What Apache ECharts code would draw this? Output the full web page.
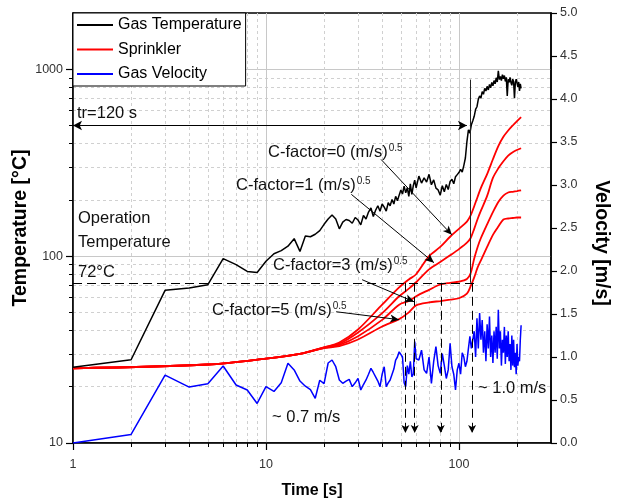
<!DOCTYPE html>
<html>
<head>
<meta charset="utf-8">
<script src="https://cdn.jsdelivr.net/npm/echarts@6/dist/echarts.min.js"></script>
<style>
html, body { margin: 0; padding: 0; background: #fff; }
#main { width: 619px; height: 504px; }
</style>
</head>
<body>
<div id="main"></div>
<script>
// time stamps [s] for the measured gas temperature / velocity
var timeS = [
  1, 2, 3, 4, 5, 6, 7, 8, 9, 10, 11, 12, 13, 14, 15, 16, 17, 18, 19, 20,
  21, 22, 23, 24, 25, 26, 27, 28, 29, 30, 31, 32, 33, 34, 35, 36, 37, 38, 39, 40,
  41, 42, 43, 44, 45, 46, 47, 48, 49, 50, 51, 52, 53, 54, 55, 56, 57, 58, 59, 60,
  62, 64, 66, 68, 70, 72, 74, 76, 78, 80, 82, 84, 86, 88, 90, 92, 94, 96, 98, 100,
  102, 104, 106, 108, 110, 112, 114, 116, 118, 120, 122, 124, 126, 128, 130, 132, 134, 136, 138, 140,
  142, 144, 146, 148, 150, 152, 154, 156, 158, 160, 162, 164, 166, 168, 170, 172, 174, 176, 178, 180,
  182, 184, 186, 188, 190, 192, 194, 196, 198, 200, 202, 204, 206, 208, 210
];
var gasTemp = [
  25.4, 27.9, 65.6, 67.5, 70.3, 97, 90, 82.8, 81.7, 93.8, 103, 107, 113, 124, 106, 128, 127, 131, 137, 148,
  158, 166, 158, 140, 152, 157, 155, 150, 161, 156, 147, 165, 158, 172, 181, 163, 176, 186, 174, 190,
  183, 174, 193, 186, 201, 190, 209, 198, 212, 226, 215, 237, 218, 232, 209, 244, 214, 238, 255, 232,
  268, 246, 262, 249, 274, 241, 256, 231, 226, 212, 238, 221, 242, 227, 251, 258, 244, 266, 273, 280,
  291, 282, 305, 335, 410, 474, 455, 505, 530, 560, 610, 630, 690, 720, 700, 760, 735, 790, 765, 810,
  775, 830, 795, 850, 815, 870, 835, 900, 855, 980, 880, 915, 870, 935, 890, 925, 860, 905, 720, 885,
  850, 905, 850, 820, 885, 860, 700, 845, 885, 870, 805, 855, 765, 835, 790
];
var gasVel = [
  0.0, 0.1, 0.79, 0.65, 0.69, 0.895, 0.674, 0.616, 0.46, 0.655, 0.6, 0.7, 0.927, 0.85, 0.72, 0.66, 0.62, 0.52, 0.73, 0.69,
  0.93, 0.965, 0.887, 0.733, 0.694, 0.72, 0.74, 0.655, 0.7, 0.752, 0.616, 0.68, 0.733, 0.8, 0.869, 0.82, 0.77, 0.72, 0.655, 0.8,
  0.887, 0.655, 0.7, 0.733, 0.72, 0.86, 0.965, 1.0, 1.06, 1.03, 1.0, 0.7, 0.655, 0.9, 0.8, 0.95, 0.77, 0.8, 1.18, 0.98,
  0.965, 1.08, 0.85, 0.81, 1.0, 0.694, 0.95, 1.12, 0.9, 0.81, 1.04, 0.9, 0.75, 0.85, 1.16, 0.887, 0.8, 0.616, 0.85, 0.927,
  0.8, 1.05, 1.0, 0.887, 0.95, 1.1, 1.24, 1.1, 1.12, 1.3, 1.0, 1.45, 1.1, 1.51, 1.2, 1.43, 1.05, 1.3, 0.95, 1.38,
  1.1, 1.47, 1.0, 1.25, 0.93, 1.3, 1.05, 1.35, 0.98, 1.55, 1.1, 1.3, 0.9, 1.2, 1.05, 1.35, 0.92, 1.25, 1.0, 1.3,
  0.95, 1.15, 0.85, 1.25, 0.9, 1.2, 0.88, 1.05, 0.8, 1.15, 0.9, 1.0, 0.95, 1.2, 1.37
];

// sprinkler (link) temperature for C-factor 0, 1, 3, 5 (m/s)^0.5
var sprTime = [1, 5, 10, 15, 20, 24, 30, 40, 49, 55, 60, 70, 80, 90, 100, 110, 115, 120, 125, 130, 140, 150, 160, 170, 180, 190, 200, 210];
var sprC0 = [25.1, 26.3, 28.3, 30, 32.5, 34.5, 40.5, 55, 68, 75, 80, 100, 112, 127, 140, 153, 165, 185, 208, 232, 275, 330, 388, 435, 470, 500, 528, 555];
var sprC1 = [25.1, 26.3, 28.3, 30, 32.5, 34, 39, 49.5, 61, 67, 72.5, 85, 93, 101, 109, 118, 125, 140, 158, 175, 210, 262, 295, 322, 345, 360, 370, 378];
var sprC3 = [25.1, 26.3, 28.3, 30, 32.3, 33.5, 37.3, 45.6, 55, 57.5, 61, 66, 70.5, 72, 73, 75.5, 81, 97, 112, 125, 148, 172, 195, 211, 219, 221, 223, 225];
var sprC5 = [25.1, 26.3, 28.3, 30, 32.2, 33, 35.8, 42, 46, 50, 54.5, 56.5, 57.5, 58.5, 59.5, 63, 69, 77, 87, 95, 112, 130, 144, 157, 159, 160, 161, 161];

// operation (activation) times where each sprinkler reaches 72 C
var actTimes = [52.8, 59, 80.5, 117];
var opTemp = 72;

// axis ticks
var xMajor = [1, 10, 100];
var xMinor = [2, 3, 4, 5, 6, 7, 8, 9, 20, 30, 40, 50, 60, 70, 80, 90, 200];
var yMajor = [10, 100, 1000];
var yMinor = [20, 30, 40, 50, 60, 70, 80, 90, 200, 300, 400, 500, 600, 700, 800, 900];

var FONT = '"Liberation Sans", Arial, sans-serif';

function pairs(xs, ys) {
  return xs.map(function (x, i) { return [x, ys[i]]; });
}

var myChart = echarts.init(document.getElementById('main'));

var arrowLine = { color: '#000', width: 1, type: 'solid' };
var dashLine = { color: '#000', width: 1, type: [9, 5] };

var marks = [
  // tr = 120 s
  [{ coord: [1, 500], symbol: 'arrow', symbolSize: [7, 9], lineStyle: arrowLine }, { coord: [110, 500], symbol: 'arrow', symbolSize: [7, 9] }],
  // operation temperature 72 C
  [{ coord: [1, opTemp], symbol: 'none', lineStyle: dashLine }, { coord: [125, opTemp], symbol: 'none' }],
  // vertical marker at tr
  [{ coord: [114, 880], symbol: 'none', lineStyle: { color: '#222', width: 1, type: 'solid' } }, { coord: [114, opTemp], symbol: 'none' }],
  // C-factor pointers
  [{ coord: [39.5, 329], symbol: 'none', lineStyle: arrowLine }, { coord: [91.9, 130], symbol: 'arrow', symbolSize: [6, 9] }],
  [{ coord: [27.7, 214], symbol: 'none', lineStyle: arrowLine }, { coord: [74.2, 92.3], symbol: 'arrow', symbolSize: [6, 9] }],
  [{ coord: [31.5, 74.8], symbol: 'none', lineStyle: arrowLine }, { coord: [58.5, 57], symbol: 'arrow', symbolSize: [6, 9] }],
  [{ coord: [23.1, 50.4], symbol: 'none', lineStyle: arrowLine }, { coord: [49, 45.7], symbol: 'arrow', symbolSize: [6, 9] }]
];
actTimes.forEach(function (t) {
  marks.push([{ coord: [t, opTemp], symbol: 'none', lineStyle: dashLine }, { coord: [t, 11.3], symbol: 'arrow', symbolSize: [6, 8] }]);
});

function redSeries(data) {
  return {
    name: 'Sprinkler', type: 'line', xAxisIndex: 0, yAxisIndex: 0,
    data: pairs(sprTime, data), symbol: 'none', smooth: 0.3,
    lineStyle: { color: '#ff0000', width: 1.8 }, itemStyle: { color: '#ff0000' }, z: 3
  };
}

function sup(main) {
  return '{a|' + main + '}{b|0.5}';
}
var supRich = {
  a: { fontSize: 16.5, fontFamily: FONT, fill: '#111' },
  b: { fontSize: 10, fontFamily: FONT, fill: '#222', verticalAlign: 'top', padding: [0, 0, 4, 1] }
};
function label(x, y, text, rich) {
  var st = { text: text, x: 0, y: 0, fill: '#111', font: '16.5px ' + FONT, verticalAlign: 'middle' };
  if (rich) st.rich = supRich;
  return { type: 'text', x: x, y: y, z: 100, style: st, silent: true };
}

var option = {
  animation: false,
  backgroundColor: '#fff',
  textStyle: { fontFamily: FONT },
  grid: {
    left: 73, right: 68, top: 13, bottom: 61,
    show: true, borderColor: '#000', borderWidth: 1.5, backgroundColor: 'transparent',
    containLabel: false, outerBoundsMode: 'none'
  },
  legend: {
    orient: 'vertical', left: 73, top: 13,
    icon: 'rect', itemWidth: 36, itemHeight: 2, itemGap: 8.5,
    padding: [4, 4, 4, 4],
    borderColor: '#000', borderWidth: 1, borderRadius: 0, backgroundColor: '#fff',
    selectedMode: false,
    textStyle: { fontSize: 16, color: '#000', fontFamily: FONT, lineHeight: 16 },
    data: ['Gas Temperature', 'Sprinkler', 'Gas Velocity'],
    z: 20
  },
  xAxis: [
    {
      type: 'log', min: 1, max: 300, position: 'bottom', logBase: 10,
      name: 'Time [s]', nameLocation: 'middle', nameGap: 40, nameMoveOverlap: false,
      nameTextStyle: { fontSize: 16, fontWeight: 'bold', color: '#000', fontFamily: FONT },
      axisLine: { lineStyle: { color: '#000', width: 1.5 } },
      axisTick: { customValues: xMajor, length: 7, lineStyle: { color: '#000', width: 1.2 } },
      axisLabel: { customValues: xMajor, margin: 15, fontSize: 12.5, color: '#333', fontFamily: FONT, formatter: function (v) { return String(Math.round(v)); } },
      splitLine: { show: true, lineStyle: { color: '#c8c8c8', width: 1, type: 'solid' } }
    },
    {
      type: 'log', min: 1, max: 300, position: 'bottom', logBase: 10,
      axisLine: { show: false },
      axisTick: { customValues: xMinor, length: 4, lineStyle: { color: '#000', width: 1 } },
      axisLabel: { show: false },
      splitLine: { show: true, lineStyle: { color: '#d0d0d0', width: 1, type: [3, 3] } }
    }
  ],
  yAxis: [
    {
      type: 'log', min: 10, max: 2000, position: 'left', logBase: 10,
      name: 'Temperature [\u00B0C]', nameLocation: 'middle', nameGap: 42, nameMoveOverlap: false,
      nameTextStyle: { fontSize: 19.5, fontWeight: 'bold', color: '#000', fontFamily: FONT },
      axisLine: { show: true, lineStyle: { color: '#000', width: 1.5 } },
      axisTick: { show: true, customValues: yMajor, length: 7, lineStyle: { color: '#000', width: 1.2 } },
      axisLabel: { customValues: yMajor, margin: 10, fontSize: 12.5, color: '#333', fontFamily: FONT, formatter: function (v) { return String(Math.round(v)); } },
      splitLine: { show: true, lineStyle: { color: '#c8c8c8', width: 1, type: 'solid' } }
    },
    {
      type: 'log', min: 10, max: 2000, position: 'left', logBase: 10,
      axisLine: { show: false },
      axisTick: { show: true, customValues: yMinor, length: 4, lineStyle: { color: '#000', width: 1 } },
      axisLabel: { show: false },
      splitLine: { show: true, lineStyle: { color: '#d0d0d0', width: 1, type: [3, 3] } }
    },
    {
      type: 'value', min: 0, max: 5, interval: 0.5, position: 'right',
      name: 'Velocity [m/s]', nameLocation: 'middle', nameGap: 40, nameRotate: -90, nameMoveOverlap: false,
      nameTextStyle: { fontSize: 19.5, fontWeight: 'bold', color: '#000', fontFamily: FONT, padding: [0, 0, 0, 30] },
      axisLine: { show: true, lineStyle: { color: '#000', width: 1.5 } },
      axisTick: { show: true, length: 6, lineStyle: { color: '#000', width: 1.2 } },
      axisLabel: { margin: 9, fontSize: 12.5, color: '#333', fontFamily: FONT, formatter: function (v) { return v.toFixed(1); } },
      splitLine: { show: false }
    }
  ],
  series: [
    {
      name: 'Gas Temperature', type: 'line', xAxisIndex: 0, yAxisIndex: 0,
      data: pairs(timeS, gasTemp), symbol: 'none',
      lineStyle: { color: '#000', width: 1.5 }, itemStyle: { color: '#000' }, z: 4,
      markLine: { silent: true, animation: false, label: { show: false }, emphasis: { disabled: true }, data: marks }
    },
    redSeries(sprC0),
    redSeries(sprC1),
    redSeries(sprC3),
    redSeries(sprC5),
    {
      name: 'Gas Velocity', type: 'line', xAxisIndex: 0, yAxisIndex: 2,
      data: pairs(timeS, gasVel), symbol: 'none',
      lineStyle: { color: '#0000ff', width: 1.5 }, itemStyle: { color: '#0000ff' }, z: 3
    }
  ],
  graphic: [
    label(77, 113, 'tr=120 s'),
    label(78, 218, 'Operation'),
    label(78, 242, 'Temperature'),
    label(78, 272, '72\u00B0C'),
    label(268, 152, sup('C-factor=0 (m/s)'), true),
    label(236, 185, sup('C-factor=1 (m/s)'), true),
    label(273, 265, sup('C-factor=3 (m/s)'), true),
    label(212, 310, sup('C-factor=5 (m/s)'), true),
    label(272, 417, '~ 0.7 m/s'),
    label(478, 388, '~ 1.0 m/s')
  ]
};

myChart.setOption(option);
window.addEventListener('resize', function () {
  myChart.resize();
});
</script>
</body>
</html>
